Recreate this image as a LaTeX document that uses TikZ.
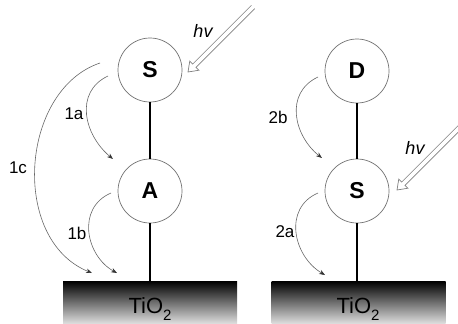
\documentclass[tikz,border=0pt]{standalone}
\usepackage{fontspec}
\setmainfont{Liberation Sans}
\usetikzlibrary{arrows.meta}

\tikzset{
  unit/.style={circle, draw=black!55, line width=0.7pt, minimum size=64pt,
    inner sep=0pt, fill=white, font=\fontsize{23}{23}\selectfont\bfseries},
  link/.style={line width=1.4pt, draw=black},
  transfer/.style={draw=black!60, line width=0.6pt,
    -{Stealth[length=6pt, width=4.5pt, color=black!80]}},
  steplabel/.style={inner sep=0pt, font=\fontsize{17}{17}\selectfont},
  lightlabel/.style={inner sep=0pt, font=\fontsize{18}{18}\selectfont\itshape},
  oxide/.style={rectangle, draw=none, minimum width=174pt, minimum height=43pt,
    inner sep=0pt, top color=black, middle color=black!60, bottom color=black!12},
  oxidetext/.style={anchor=base, inner sep=0pt, font=\fontsize{22}{22}\selectfont},
  hvarrow/.pic={
    \draw[draw=black!50, line width=0.7pt, line join=miter, fill=white]
      (-92,2.3) -- (-9,2.3) -- (-9,6.5) -- (0,0) -- (-9,-6.5) -- (-9,-2.3) -- (-92,-2.3);
  }
}

\newcommand{\oxidelabel}{TiO\raisebox{-0.32em}{\fontsize{15}{15}\selectfont 2}}

\begin{document}
\begin{tikzpicture}[x=1pt, y=-1pt]
  \useasboundingbox (0,0) rectangle (458,324);

  % ---- left assembly: sensitizer S, acceptor A, oxide ----
  \node[unit] (S1) at (150,70) {S};
  \node[unit] (A1) at (150,191) {A};
  \node[oxide] (ox1) at (150,302.5) {};
  \node[oxidetext] (t1) at (150,313) {\oxidelabel};
  \draw[link] (S1.south) -- (A1.north);
  \draw[link] (A1.south) -- (A1.south |- ox1.north);

  \draw[transfer] (108,76) .. controls (74,92) and (84,135) .. (113,159);
  \draw[transfer] (111,193) .. controls (76,208) and (86,256) .. (117,273);
  \draw[transfer] (100,63) .. controls (20,90) and (10,240) .. (92,273);
  \node[steplabel] (l1a) at (74,114) {1a};
  \node[steplabel] (l1b) at (77,233) {1b};
  \node[steplabel] (l1c) at (18,168) {1c};

  \pic[rotate=225] at (188,72) {hvarrow};
  \node[lightlabel] (hv1) at (203,31) {hv};

  % ---- right assembly: donor D, sensitizer S, oxide ----
  \node[unit] (D2) at (357,71) {D};
  \node[unit] (S2) at (357,191) {S};
  \node[oxide] (ox2) at (358.5,302.5) {};
  \node[oxidetext] (t2) at (358,313) {\oxidelabel};
  \draw[link] (D2.south) -- (S2.north);
  \draw[link] (S2.south) -- (S2.south |- ox2.north);

  \draw[transfer] (318,77) .. controls (284,93) and (294,136) .. (322,158);
  \draw[transfer] (318,193) .. controls (283,208) and (293,256) .. (325,275);
  \node[steplabel] (l2b) at (278,117) {2b};
  \node[steplabel] (l2a) at (285,232) {2a};

  \pic[rotate=225] at (397,190) {hvarrow};
  \node[lightlabel] (hv2) at (415,148) {hv};
\end{tikzpicture}
\end{document}
